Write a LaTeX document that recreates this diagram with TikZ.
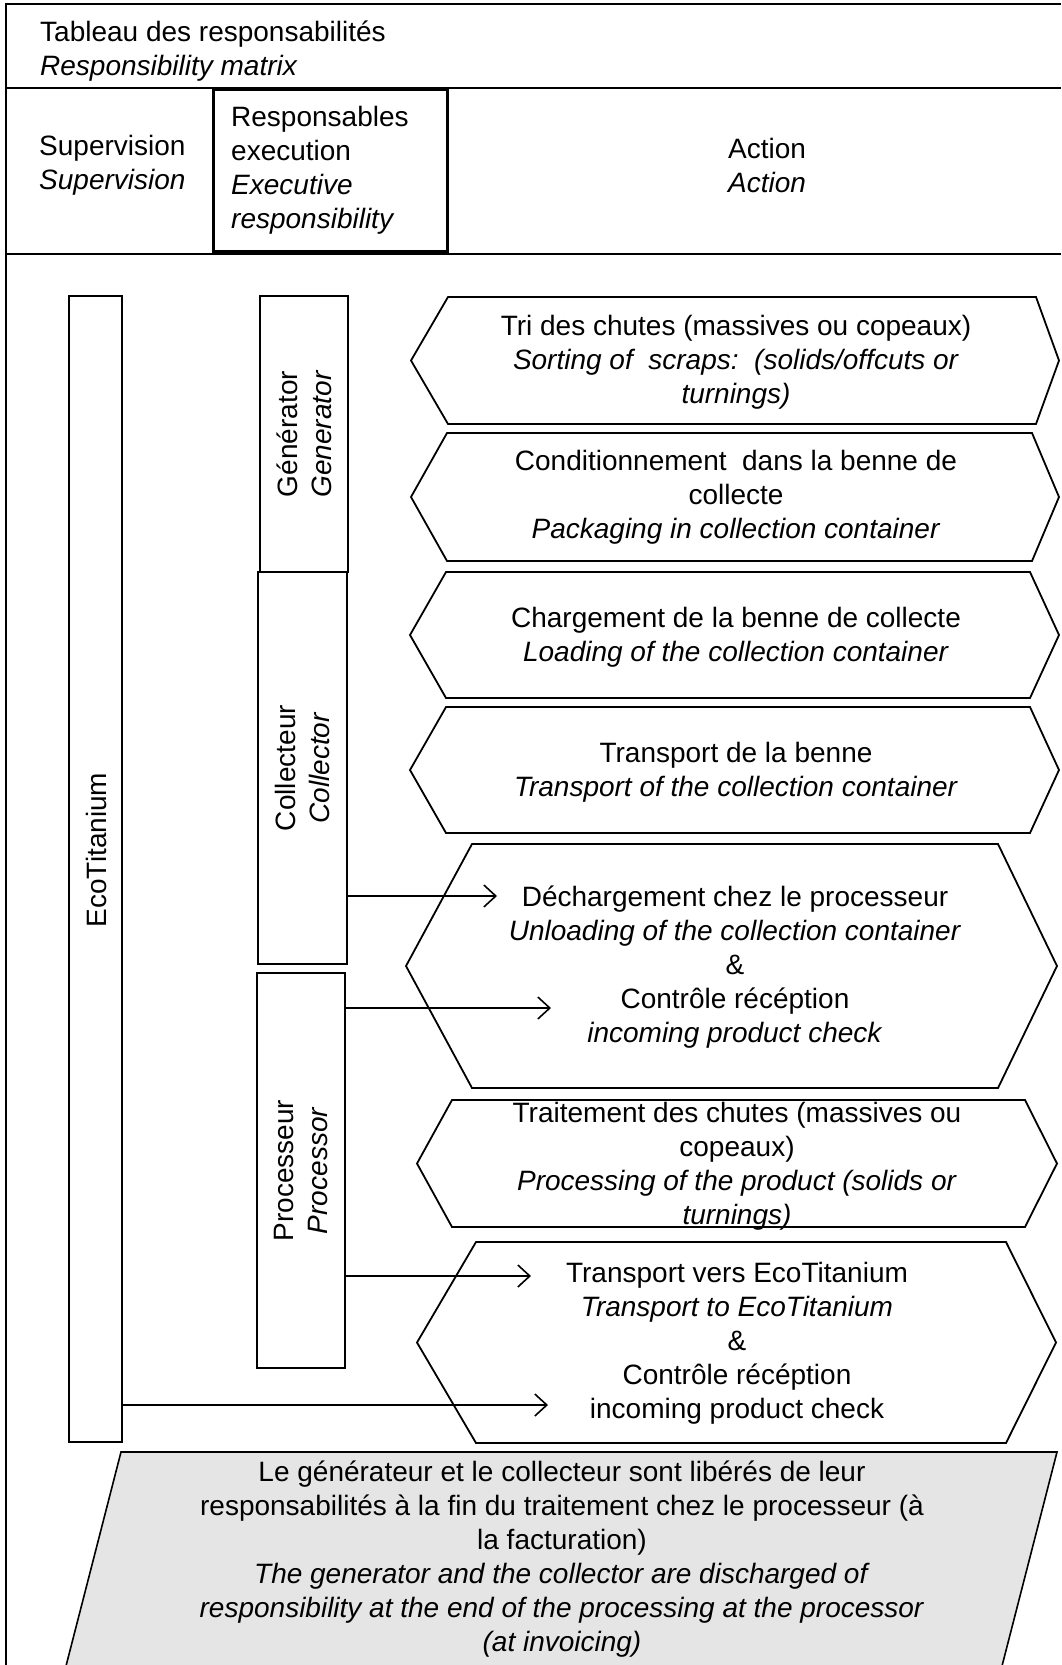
\documentclass[tikz,border=0pt]{standalone}
\usepackage{fontspec}
\setmainfont{Liberation Sans}
\usetikzlibrary{arrows.meta}
\newcommand{\hexa}[6]{%
  \draw[hexbox] ({#1},{(#5+#6)/2}) -- ({#2},{#5}) -- ({#3},{#5}) -- ({#4},{(#5+#6)/2}) -- ({#3},{#6}) -- ({#2},{#6}) -- cycle;}
\begin{document}
\begin{tikzpicture}[x=1pt,y=-1pt,
  frame/.style={line width=1.6pt},
  thickbox/.style={line width=3pt},
  bar/.style={draw, line width=1.8pt, rectangle, inner sep=0pt},
  hexbox/.style={line width=1.8pt, line join=miter},
  txt/.style={font=\fontsize{28}{34}\selectfont, align=center, inner sep=0pt},
  arr/.style={line width=1.6pt, -{Straight Barb[length=12pt,width=22pt]}}]
\useasboundingbox (0,0) rectangle (1061,1665);
% frame
\draw[frame] (1061,4) -- (6,4) -- (6,1665);
\draw[frame] (6,88) -- (1061,88);
\draw[frame] (6,254) -- (1061,254);
\draw[thickbox] (213,89) rectangle (447,251);
% header texts
\node[txt, anchor=west, align=left] (title) at (40,51.5) {Tableau des responsabilités\\\textit{Responsibility matrix}};
\node[txt, anchor=west, align=left] (sup) at (39,165) {Supervision\\\textit{Supervision}};
\node[txt, anchor=west, align=left] (resp) at (231,170) {Responsables\\execution\\\textit{Executive}\\\textit{responsibility}};
\node[txt] (act) at (767,165) {Action\\\textit{Action}};
% bars
\node[bar, minimum width=53pt, minimum height=1146pt] (eco) at (95.5,869) {};
\node[bar, minimum width=88pt, minimum height=276pt] (gen) at (304,434) {};
\node[bar, minimum width=89pt, minimum height=392pt] (col) at (302.5,768) {};
\node[bar, minimum width=88pt, minimum height=395pt] (pro) at (301,1170.5) {};
\node[txt, rotate=90] (ecoT) at (96,850) {EcoTitanium};
\node[txt, rotate=90] (genT) at (gen.center) {Générator\\\textit{Generator}};
\node[txt, rotate=90] (colT) at (col.center) {Collecteur\\\textit{Collector}};
\node[txt, rotate=90] (proT) at (pro.center) {Processeur\\\textit{Processor}};
% hexagons
\hexa{411}{448}{1036}{1059}{297}{424}
\hexa{411}{447}{1032}{1059}{433}{561}
\hexa{410}{446}{1030}{1059}{572}{698}
\hexa{410}{446}{1030}{1059}{707}{833}
\hexa{406}{472}{998}{1057}{844}{1088}
\hexa{417}{452}{1025}{1057}{1100}{1227}
\hexa{417}{476}{1006}{1056}{1242}{1443}
\node[txt] (h1) at (736,362) {Tri des chutes (massives ou copeaux)\\\textit{Sorting of\ \ scraps:\ \ (solids/offcuts or}\\\textit{turnings)}};
\node[txt] (h2) at (736,497) {Conditionnement\ \ dans la benne de\\collecte\\\textit{Packaging in collection container}};
\node[txt] (h3) at (736,637) {Chargement de la benne de collecte\\\textit{Loading of the collection container}};
\node[txt] (h4) at (736,772) {Transport de la benne\\\textit{Transport of the collection container}};
\node[txt] (h5) at (735,967) {Déchargement chez le processeur\\\textit{Unloading of the collection container}\\\&\\Contrôle récéption\\\textit{incoming product check}};
\node[txt] (h6) at (737,1166) {Traitement des chutes (massives ou\\copeaux)\\\textit{Processing of the product (solids or}\\\textit{turnings)}};
\node[txt] (h7) at (737,1343) {Transport vers EcoTitanium\\\textit{Transport to EcoTitanium}\\\&\\Contrôle récéption\\incoming product check};
% arrows
\coordinate (a1e) at (497,896);
\coordinate (a2e) at (551,1008);
\coordinate (a3e) at (531,1276);
\coordinate (a4e) at (548,1405);
\draw[arr] (col.east |- a1e) -- (a1e);
\draw[arr] (pro.east |- a2e) -- (a2e);
\draw[arr] (pro.east |- a3e) -- (a3e);
\draw[arr] (eco.east |- a4e) -- (a4e);
% bottom note
\fill[gray!20] (121,1452) -- (1057,1452) -- (1002,1666) -- (66,1666) -- cycle;
\draw[frame] (66,1666) -- (121,1452) -- (1057,1452) -- (1002,1666);
\node[txt] (note) at (562,1559) {Le générateur et le collecteur sont libérés de leur\\responsabilités à la fin du traitement chez le processeur (à\\la facturation)\\\textit{The generator and the collector are discharged of}\\\textit{responsibility at the end of the processing at the processor}\\\textit{(at invoicing)}};
\end{tikzpicture}
\end{document}
